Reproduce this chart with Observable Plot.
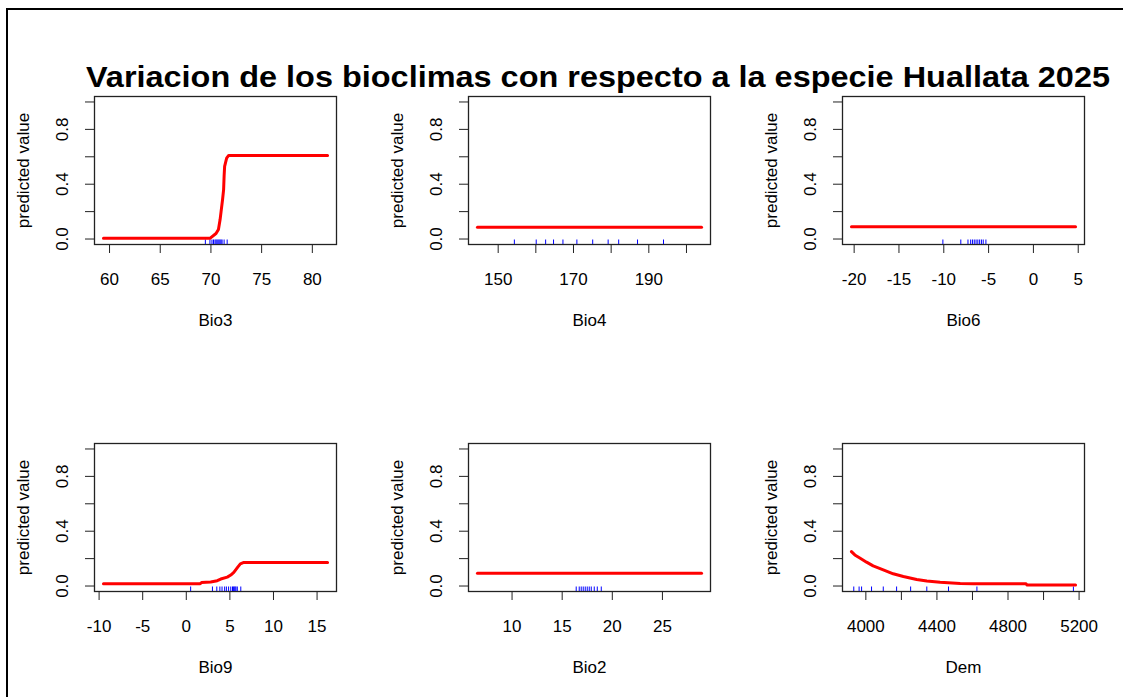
<!DOCTYPE html>
<html><head><meta charset="utf-8">
<script src="https://cdn.jsdelivr.net/npm/d3@7"></script>
<script src="https://cdn.jsdelivr.net/npm/@observablehq/plot@0.6"></script>
<style>
html,body{margin:0;padding:0;background:#fff;}
#root{position:relative;width:1123px;height:697px;overflow:hidden;background:#fff;font-family:"Liberation Sans",Arial,sans-serif;}
.panel{position:absolute;}
#border-left{position:absolute;left:6px;top:8px;width:2px;height:689px;background:#000;}
#border-top{position:absolute;left:6px;top:8px;width:1117px;height:2px;background:#000;}
#title{position:absolute;left:0;top:0;z-index:5;}
</style></head><body><div id="root"><div id="border-left"></div><div id="border-top"></div></div>
<script>
// ---------- data ----------
const titleText = "Variacion de los bioclimas con respecto a la especie Huallata 2025";
const yLabelText = "predicted value";
const yLim = [0, 1];
const yTicks = [0, 0.2, 0.4, 0.6, 0.8, 1.0];
const yTickLabels = [0, 0.4, 0.8];

const bio3X = [59.4, 69.9, 70.5, 70.74, 70.9, 71.0, 71.15, 71.25, 71.3, 71.35, 71.55, 71.75, 81.5];
const bio3Y = [0.005, 0.005, 0.04, 0.07, 0.14, 0.20, 0.29, 0.36, 0.46, 0.53, 0.59, 0.61, 0.61];
const bio3Rug = [69.45, 69.9, 70.1, 70.25, 70.4, 70.5, 70.6, 70.7, 70.8, 70.9, 71.0, 71.1, 71.3, 71.6];
const bio3Ticks = [60, 65, 70, 75, 80];
const bio3Labels = [60, 65, 70, 75, 80];

const bio4X = [144.5, 204.0];
const bio4Y = [0.085, 0.085];
const bio4Rug = [154.3, 160.1, 162.6, 164.7, 167.2, 170.9, 175.1, 179.2, 182.0, 187.0, 193.9];
const bio4Ticks = [150, 160, 170, 180, 190, 200];
const bio4Labels = [150, 170, 190];

const bio6X = [-20.3, 4.7];
const bio6Y = [0.09, 0.09];
const bio6Rug = [-10.1, -8.1, -7.3, -7.0, -6.8, -6.6, -6.4, -6.2, -6.0, -5.8, -5.6, -5.3];
const bio6Ticks = [-20, -15, -10, -5, 0, 5];
const bio6Labels = [-20, -15, -10, -5, 0, 5];

const bio9X = [-9.5, 1.6, 1.75, 2.8, 3.55, 3.95, 4.7, 5.1, 5.45, 5.9, 6.2, 6.6, 16.2];
const bio9Y = [0.017, 0.017, 0.025, 0.029, 0.039, 0.051, 0.065, 0.08, 0.10, 0.138, 0.162, 0.172, 0.172];
const bio9Rug = [0.5, 3.0, 3.5, 3.85, 4.1, 4.4, 4.6, 4.85, 5.1, 5.3, 5.4, 5.5, 5.6, 5.7, 5.85, 6.25];
const bio9Ticks = [-10, -5, 0, 5, 10, 15];
const bio9Labels = [-10, -5, 0, 5, 10, 15];

const bio2X = [6.55, 28.9];
const bio2Y = [0.093, 0.093];
const bio2Rug = [16.4, 16.7, 16.9, 17.1, 17.3, 17.5, 17.7, 17.9, 18.2, 18.5, 18.9];
const bio2Ticks = [10, 15, 20, 25];
const bio2Labels = [10, 15, 20, 25];

const demX = [3919, 3938, 3966, 4004, 4041, 4098, 4154, 4211, 4286, 4343, 4418, 4531, 4606, 4900, 4908, 5180];
const demY = [0.251, 0.227, 0.205, 0.174, 0.147, 0.118, 0.089, 0.070, 0.048, 0.036, 0.027, 0.019, 0.017, 0.017, 0.007, 0.007];
const demRug = [3932, 3962, 3976, 4032, 4098, 4173, 4252, 4343, 4465, 4625, 5168];
const demTicks = [4000, 4200, 4400, 4600, 4800, 5000, 5200];
const demLabels = [4000, 4400, 4800, 5200];

const panelNames = ["Bio3", "Bio4", "Bio6", "Bio9", "Bio2", "Dem"];

// ---------- layout ----------
const root = document.getElementById("root");
const FONT = '"Liberation Sans", Arial, sans-serif';

const tsvg = document.createElementNS("http://www.w3.org/2000/svg", "svg");
tsvg.setAttribute("id", "title");
tsvg.setAttribute("width", 1123);
tsvg.setAttribute("height", 95);
const tt = document.createElementNS("http://www.w3.org/2000/svg", "text");
tt.setAttribute("x", 86);
tt.setAttribute("y", 86.5);
tt.setAttribute("textLength", 1024);
tt.setAttribute("lengthAdjust", "spacingAndGlyphs");
tt.setAttribute("font-family", FONT);
tt.setAttribute("font-weight", "bold");
tt.setAttribute("font-size", 29);
tt.setAttribute("fill", "#000");
tt.textContent = titleText;
tsvg.appendChild(tt);
root.appendChild(tsvg);

const panels = [
  {name: panelNames[0], x: bio3X, y: bio3Y, rug: bio3Rug, ticks: bio3Ticks, labels: bio3Labels},
  {name: panelNames[1], x: bio4X, y: bio4Y, rug: bio4Rug, ticks: bio4Ticks, labels: bio4Labels},
  {name: panelNames[2], x: bio6X, y: bio6Y, rug: bio6Rug, ticks: bio6Ticks, labels: bio6Labels},
  {name: panelNames[3], x: bio9X, y: bio9Y, rug: bio9Rug, ticks: bio9Ticks, labels: bio9Labels},
  {name: panelNames[4], x: bio2X, y: bio2Y, rug: bio2Rug, ticks: bio2Ticks, labels: bio2Labels},
  {name: panelNames[5], x: demX, y: demY, rug: demRug, ticks: demTicks, labels: demLabels}
];

const colLeft = [94, 468, 842];
const rowTop = [96, 443];
const boxW = 242, boxH = 148;
const mL = 100, mT = 10, mR = 12, mB = 95;

const yr = yLim[1] - yLim[0];
const yDomain = [yLim[0] - 0.04 * yr, yLim[1] + 0.04 * yr];

panels.forEach((p, i) => {
  const col = i % 3, row = Math.floor(i / 3);
  const lo = d3.min(p.x), hi = d3.max(p.x), r = hi - lo;
  const data = p.x.map((v, k) => ({x: v, y: p.y[k]}));
  const chart = Plot.plot({
    width: mL + boxW + mR,
    height: mT + boxH + mB,
    marginLeft: mL, marginTop: mT, marginRight: mR, marginBottom: mB,
    style: {background: "transparent", overflow: "visible", fontFamily: FONT, fontSize: "17px", color: "#000"},
    x: {domain: [lo - 0.04 * r, hi + 0.04 * r]},
    y: {domain: yDomain},
    marks: [
      Plot.axisX({ticks: p.ticks, tickSize: 9, tickPadding: 19, tickFormat: d => p.labels.includes(d) ? String(d) : "", label: null, stroke: "#222", fill: "#000", fontSize: 17}),
      Plot.axisY({ticks: yTicks, tickSize: 9, tickFormat: () => "", label: null, stroke: "#222"}),
      Plot.text(yTickLabels, {y: d => d, text: d => d.toFixed(1), frameAnchor: "left", textAnchor: "middle", lineAnchor: "middle", dx: -32, rotate: -90, fontSize: 17, fill: "#000"}),
      Plot.text([yLabelText], {text: d => d, frameAnchor: "left", textAnchor: "middle", lineAnchor: "middle", dx: -71, rotate: -90, fontSize: 17, fill: "#000"}),
      Plot.text([p.name], {text: d => d, frameAnchor: "bottom", dy: 76, lineAnchor: "middle", fontSize: 17, fill: "#000"}),
      Plot.frame({stroke: "#222", strokeWidth: 1.3}),
      Plot.ruleX(p.rug, {x: d => d, stroke: "#0000ff", strokeWidth: 1, insetTop: boxH - 4.5}),
      Plot.line(data, {x: "x", y: "y", stroke: "#ff0000", strokeWidth: 3})
    ]
  });
  const wrap = document.createElement("div");
  wrap.className = "panel";
  wrap.style.left = (colLeft[col] - mL) + "px";
  wrap.style.top = (rowTop[row] - mT) + "px";
  wrap.appendChild(chart);
  root.appendChild(wrap);
});
</script>
</body></html>
